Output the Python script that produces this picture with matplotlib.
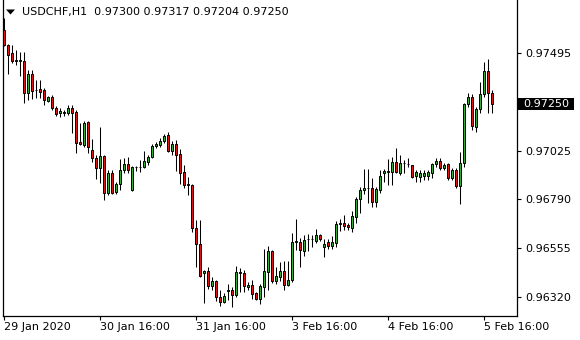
import matplotlib
matplotlib.use("Agg")
import matplotlib.pyplot as plt
from matplotlib.patches import Rectangle, Polygon
from matplotlib.transforms import blended_transform_factory
import numpy as np

symbol_title = "USDCHF,H1  0.97300 0.97317 0.97204 0.97250"

opens = [0.97606, 0.97533, 0.97495, 0.97461, 0.97456, 0.97456, 0.97302, 0.97394, 0.97317, 0.97321,
         0.97317, 0.97264, 0.97283, 0.97230, 0.97206, 0.97211, 0.97206, 0.97230, 0.97211, 0.97066,
         0.97052, 0.97162, 0.97028, 0.96989, 0.96941, 0.96999, 0.96820, 0.96917, 0.96825, 0.96864,
         0.96931, 0.96960, 0.96835, 0.96946, 0.96946, 0.96946, 0.96970, 0.96994, 0.97047, 0.97052,
         0.97071, 0.97100, 0.97023, 0.97057, 0.97008, 0.96922, 0.96864, 0.96859, 0.96652, 0.96575,
         0.96435, 0.96445, 0.96373, 0.96397, 0.96320, 0.96296, 0.96353, 0.96353, 0.96329, 0.96440,
         0.96435, 0.96368, 0.96377, 0.96339, 0.96310, 0.96368, 0.96440, 0.96541, 0.96397, 0.96416,
         0.96445, 0.96377, 0.96402, 0.96585, 0.96585, 0.96541, 0.96599, 0.96599, 0.96589, 0.96618,
         0.96560, 0.96585, 0.96565, 0.96580, 0.96671, 0.96676, 0.96666, 0.96652, 0.96705, 0.96792,
         0.96835, 0.96845, 0.96845, 0.96777, 0.96835, 0.96917, 0.96922, 0.96922, 0.96970, 0.96917,
         0.96965, 0.96960, 0.96955, 0.96902, 0.96898, 0.96902, 0.96902, 0.96917, 0.96960, 0.96975,
         0.96941, 0.96960, 0.96893, 0.96931, 0.96854, 0.96965, 0.97249, 0.97283, 0.97138, 0.97225,
         0.97297, 0.97408, 0.97300]
highs = [0.97663, 0.97538, 0.97533, 0.97509, 0.97500, 0.97500, 0.97413, 0.97413, 0.97365, 0.97365,
         0.97326, 0.97288, 0.97293, 0.97240, 0.97230, 0.97220, 0.97244, 0.97244, 0.97220, 0.97158,
         0.97167, 0.97167, 0.97081, 0.97004, 0.97138, 0.97004, 0.96931, 0.96931, 0.96874, 0.96984,
         0.96989, 0.96994, 0.96951, 0.96951, 0.96979, 0.97023, 0.97004, 0.97057, 0.97066, 0.97085,
         0.97105, 0.97114, 0.97071, 0.97076, 0.97032, 0.96955, 0.96898, 0.96862, 0.96690, 0.96690,
         0.96448, 0.96464, 0.96416, 0.96402, 0.96353, 0.96339, 0.96382, 0.96368, 0.96469, 0.96459,
         0.96450, 0.96392, 0.96402, 0.96344, 0.96382, 0.96551, 0.96565, 0.96546, 0.96464, 0.96488,
         0.96493, 0.96493, 0.96628, 0.96695, 0.96604, 0.96618, 0.96623, 0.96618, 0.96647, 0.96623,
         0.96599, 0.96599, 0.96613, 0.96686, 0.96695, 0.96715, 0.96676, 0.96734, 0.96801, 0.96849,
         0.96936, 0.96936, 0.96893, 0.96849, 0.96931, 0.96936, 0.96984, 0.96994, 0.97037, 0.97004,
         0.96979, 0.96989, 0.96957, 0.96931, 0.96931, 0.96931, 0.96931, 0.96965, 0.96989, 0.96989,
         0.96965, 0.96965, 0.96941, 0.96941, 0.97018, 0.97254, 0.97302, 0.97297, 0.97235, 0.97355,
         0.97451, 0.97466, 0.97317]
lows = [0.97529, 0.97394, 0.97447, 0.97437, 0.97384, 0.97254, 0.97268, 0.97273, 0.97278, 0.97278,
        0.97244, 0.97259, 0.97220, 0.97191, 0.97187, 0.97191, 0.97196, 0.97110, 0.97013, 0.97052,
        0.97042, 0.97013, 0.96970, 0.96888, 0.96869, 0.96787, 0.96811, 0.96816, 0.96816, 0.96835,
        0.96917, 0.96917, 0.96830, 0.96927, 0.96922, 0.96941, 0.96955, 0.96990, 0.97037, 0.97042,
        0.97061, 0.97018, 0.97004, 0.96927, 0.96864, 0.96845, 0.96811, 0.96633, 0.96464, 0.96416,
        0.96291, 0.96358, 0.96353, 0.96300, 0.96276, 0.96291, 0.96305, 0.96272, 0.96320, 0.96344,
        0.96344, 0.96353, 0.96310, 0.96305, 0.96286, 0.96320, 0.96353, 0.96387, 0.96382, 0.96397,
        0.96353, 0.96373, 0.96392, 0.96546, 0.96464, 0.96517, 0.96541, 0.96560, 0.96580, 0.96589,
        0.96512, 0.96551, 0.96551, 0.96560, 0.96638, 0.96642, 0.96642, 0.96633, 0.96676, 0.96724,
        0.96816, 0.96772, 0.96753, 0.96753, 0.96820, 0.96874, 0.96859, 0.96859, 0.96917, 0.96907,
        0.96917, 0.96946, 0.96893, 0.96874, 0.96874, 0.96883, 0.96883, 0.96893, 0.96946, 0.96931,
        0.96931, 0.96883, 0.96883, 0.96845, 0.96768, 0.96946, 0.97235, 0.97124, 0.97114, 0.97206,
        0.97283, 0.97206, 0.97204]
closes = [0.97533, 0.97485, 0.97456, 0.97456, 0.97461, 0.97302, 0.97394, 0.97312, 0.97317, 0.97307,
          0.97268, 0.97283, 0.97230, 0.97201, 0.97215, 0.97206, 0.97230, 0.97206, 0.97061, 0.97057,
          0.97158, 0.97042, 0.96989, 0.96941, 0.96999, 0.96820, 0.96917, 0.96820, 0.96864, 0.96931,
          0.96960, 0.96931, 0.96946, 0.96944, 0.96948, 0.96975, 0.96994, 0.97047, 0.97057, 0.97071,
          0.97095, 0.97023, 0.97057, 0.97004, 0.96917, 0.96859, 0.96859, 0.96652, 0.96575, 0.96421,
          0.96445, 0.96373, 0.96397, 0.96320, 0.96296, 0.96324, 0.96349, 0.96329, 0.96440, 0.96435,
          0.96373, 0.96377, 0.96334, 0.96310, 0.96373, 0.96445, 0.96541, 0.96397, 0.96421, 0.96445,
          0.96377, 0.96402, 0.96585, 0.96589, 0.96546, 0.96594, 0.96597, 0.96601, 0.96618, 0.96599,
          0.96575, 0.96565, 0.96585, 0.96671, 0.96676, 0.96662, 0.96657, 0.96710, 0.96792, 0.96835,
          0.96845, 0.96843, 0.96777, 0.96840, 0.96902, 0.96927, 0.96925, 0.96970, 0.96922, 0.96965,
          0.96963, 0.96962, 0.96898, 0.96922, 0.96917, 0.96917, 0.96922, 0.96960, 0.96975, 0.96941,
          0.96955, 0.96893, 0.96931, 0.96854, 0.96965, 0.97249, 0.97283, 0.97143, 0.97225, 0.97297,
          0.97408, 0.97302, 0.97250]

tick_bars = [0, 24, 48, 72, 96, 120]
tick_labels = ["29 Jan 2020", "30 Jan 16:00", "31 Jan 16:00", "3 Feb 16:00", "4 Feb 16:00", "5 Feb 16:00"]
price_ticks = [0.96320, 0.96555, 0.96790, 0.97025, 0.97495]
last_price = 0.97250

W, H = 580, 340
fig = plt.figure(figsize=(W / 100, H / 100), dpi=100)
fig.patch.set_facecolor("white")
ax = fig.add_axes([2.5 / W, 24.5 / H, 514 / W, 315.5 / H])
ax.set_facecolor("white")

o = np.array(opens); h = np.array(highs); l = np.array(lows); c = np.array(closes)
x = np.arange(len(o))
up = c >= o
col = np.where(up, "#33b033", "#e01414")

ax.vlines(x, l, h, color="black", linewidth=0.75, zorder=2)
body_bottom = np.minimum(o, c)
body_h = np.abs(c - o)
ax.bar(x, body_h, bottom=body_bottom, width=0.5, color=col, edgecolor="black",
       linewidth=0.7, zorder=3)

ax.set_xlim(-0.25, 128.25)
ax.set_ylim(0.962306, 0.97750)

ax.spines["top"].set_visible(False)
for s in ["left", "right", "bottom"]:
    ax.spines[s].set_linewidth(0.9)
    ax.spines[s].set_color("black")

ax.yaxis.tick_right()
ax.set_yticks(price_ticks)
ax.set_yticklabels([f"{v:.5f}" for v in price_ticks])
ax.tick_params(axis="y", direction="out", length=3, width=0.8, pad=3, labelsize=8)

ax.set_xticks(tick_bars)
ax.set_xticklabels(tick_labels, ha="left")
ax.tick_params(axis="x", direction="out", length=3, width=0.8, pad=2, labelsize=8)
for t in ax.get_xticklabels():
    t.set_horizontalalignment("left")

# current price box
tr = blended_transform_factory(ax.transAxes, ax.transData)
px_per_axes = 1.0 / 514
dp = 0.00004816
ax.add_patch(Rectangle((1.0 + 0.5 * px_per_axes, last_price - 6 * dp), 57 * px_per_axes, 12 * dp,
                       transform=tr, facecolor="black", edgecolor="none", clip_on=False, zorder=5))
ax.text(1.0 + 6.5 * px_per_axes, last_price, f"{last_price:.5f}", transform=tr, color="white",
        fontsize=8, va="center", ha="left", zorder=6, clip_on=False)

# title
fig.text(22 / W, 1 - 12.5 / H, symbol_title, fontsize=8, va="center", ha="left", color="#000000")
fig.patches.append(Polygon([[6 / W, 1 - 9.5 / H], [15 / W, 1 - 9.5 / H], [10.5 / W, 1 - 14.5 / H]],
                           closed=True, transform=fig.transFigure, facecolor="black", edgecolor="none"))

fig.savefig("out.png", dpi=100, facecolor="white")
